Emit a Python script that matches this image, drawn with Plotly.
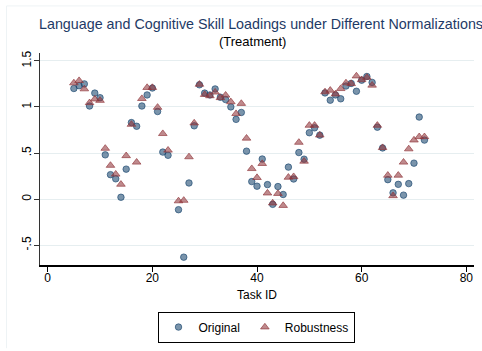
import plotly.graph_objects as go

# Task identifiers (task 24 has no estimate)
task_id = list(range(5, 24)) + list(range(25, 73))

# Skill loadings, original normalization
original = [
    1.20, 1.23, 1.25, 1.01, 1.15, 1.10, 0.48, 0.265, 0.22, 0.02,
    0.325, 0.83, 0.79, 1.01, 1.13, 1.205, 0.95, 0.51, 0.475,
    -0.115, -0.63, 0.175, 0.795, 1.24, 1.15, 1.13, 1.195, 1.105, 1.08,
    1.00, 0.865, 0.94, 0.52, 0.19, 0.14, 0.435, 0.157, -0.057, 0.136,
    0.05, 0.347, 0.218, 0.505, 0.433, 0.72, 0.773, 0.694, 1.152, 1.073,
    1.13, 1.088, 1.227, 1.255, 1.17, 1.29, 1.33, 1.266, 0.78, 0.555,
    0.211, 0.068, 0.16, 0.043, 0.168, 0.39, 0.89, 0.64,
]

# Skill loadings, robustness normalization
robustness = [
    1.26, 1.285, 1.195, 1.045, 1.085, 1.07, 0.55, 0.365, 0.27, 0.16,
    0.47, 0.81, 0.40, 1.09, 1.21, 1.21, 0.995, 0.71, 0.53,
    -0.02, -0.014, 0.458, 0.825, 1.245, 1.134, 1.12, 1.16, 1.10, 1.127,
    1.055, 0.927, 1.037, 0.66, 0.33, 0.233, 0.385, 0.065, -0.043, 0.06,
    -0.07, 0.236, 0.243, 0.615, 0.41, 0.80, 0.80, 0.694, 1.163, 1.18,
    1.14, 1.198, 1.26, 1.252, 1.335, 1.295, 1.32, 1.235, 0.80, 0.558,
    0.258, 0.036, 0.258, 0.40, 0.544, 0.64, 0.676, 0.676,
]

y_tick_vals = [-0.5, 0, 0.5, 1, 1.5]
y_tick_text = ["-.5", "0", ".5", "1", "1.5"]
x_tick_vals = [0, 20, 40, 60, 80]

FONT = "Liberation Sans, Arial, sans-serif"
W, H = 482, 351
ML, MR, MT, MB = 40, 8, 53, 84
PW, PH = W - ML - MR, H - MT - MB


def px_x(px):
    return (px - ML) / PW


def px_y(py):
    return (H - MB - py) / PH


fig = go.Figure()
fig.add_trace(go.Scatter(
    x=task_id, y=original, mode="markers", name="Original",
    marker=dict(symbol="circle", size=6.5, color="rgba(26,71,111,0.58)",
                line=dict(color="rgba(26,71,111,0.65)", width=1)),
))
fig.add_trace(go.Scatter(
    x=task_id, y=robustness, mode="markers", name="Robustness",
    marker=dict(symbol="triangle-up", size=7.5, color="rgba(144,53,59,0.58)",
                line=dict(color="rgba(144,53,59,0.65)", width=1)),
))

fig.update_layout(
    width=W, height=H,
    margin=dict(l=ML, r=MR, t=MT, b=MB, pad=0),
    paper_bgcolor="white", plot_bgcolor="white",
    font=dict(family=FONT, size=12, color="black"),
    showlegend=True,
    legend=dict(orientation="h", x=px_x(256), xanchor="center",
                y=px_y(314), yanchor="top",
                bordercolor="black", borderwidth=1,
                font=dict(size=12), itemwidth=30, tracegroupgap=0),
    xaxis=dict(range=[-1.47, 81.47], tickvals=x_tick_vals,
               showgrid=False, zeroline=False,
               showline=True, linecolor="black", linewidth=1.5,
               ticks="outside", ticklen=5, tickcolor="black", tickwidth=1,
               ticklabelstandoff=-4, tickfont=dict(size=12)),
    yaxis=dict(range=[-0.715, 1.585], tickvals=y_tick_vals, ticktext=y_tick_text,
               tickangle=-90, showgrid=True, gridcolor="#E6EEF0", gridwidth=1,
               zeroline=False, showline=True, linecolor="#333333", linewidth=1,
               ticks="outside", ticklen=5, tickcolor="#333333", tickwidth=1,
               ticklabelstandoff=-2, tickfont=dict(size=12)),
)

fig.add_annotation(
    text="Language and Cognitive Skill Loadings under Different Normalizations",
    xref="paper", yref="paper", x=px_x(37), y=px_y(24),
    xanchor="left", yanchor="middle", showarrow=False,
    font=dict(family=FONT, size=14.3, color="#1e3a66"),
)
fig.add_annotation(
    text="(Treatment)", xref="paper", yref="paper",
    x=px_x(252.5), y=px_y(41), xanchor="center", yanchor="middle",
    showarrow=False, font=dict(family=FONT, size=13, color="black"),
)
fig.add_annotation(
    text="Task ID", xref="paper", yref="paper",
    x=px_x(256.7), y=px_y(297), xanchor="center", yanchor="middle",
    showarrow=False, font=dict(family=FONT, size=12, color="black"),
)

# faint outline of the graph region
fig.add_shape(type="line", xref="paper", yref="paper",
              x0=px_x(6.5), x1=px_x(6.5), y0=px_y(5.5), y1=px_y(351),
              line=dict(color="#EEF3F5", width=1))
fig.add_shape(type="line", xref="paper", yref="paper",
              x0=px_x(6.5), x1=px_x(482), y0=px_y(5.5), y1=px_y(5.5),
              line=dict(color="#EEF3F5", width=1))

fig.write_html("out.html")
